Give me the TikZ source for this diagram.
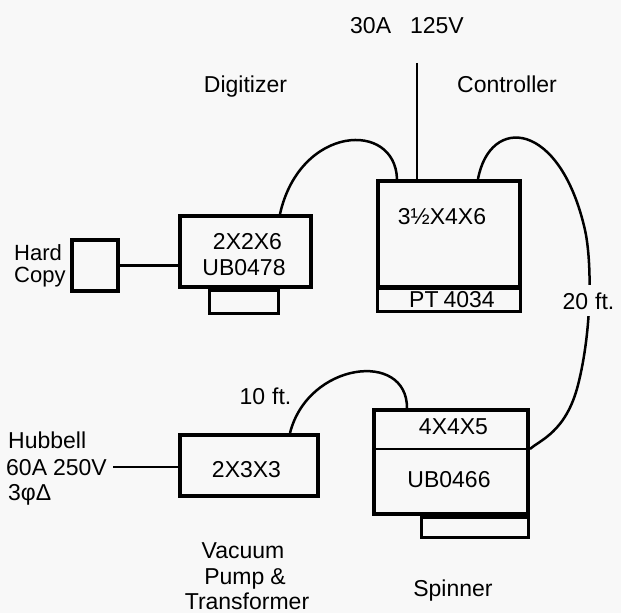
\documentclass[tikz,border=0pt]{standalone}
\usepackage{fontspec}
\setmainfont{Liberation Sans}
\definecolor{bg}{RGB}{248,248,248}
\begin{document}
\begin{tikzpicture}[x=1bp,y=-1bp,
  box/.style={draw, rectangle, line width=3.6bp, inner sep=0pt},
  standbox/.style={draw, rectangle, line width=2.8bp, inner sep=0pt},
  wire/.style={line width=2.2bp},
  cable/.style={line width=2.5bp},
  txt/.style={inner sep=0pt, anchor=base, font=\fontsize{23bp}{27bp}\selectfont},
  ltxt/.style={txt, anchor=base west}]
\fill[bg] (0,0) rectangle (621,613);
\useasboundingbox (0,0) rectangle (621,613);

% boxes
\node[box, minimum width=46.4bp, minimum height=51.4bp] (hard) at (95,265.5) {};
\node[standbox, minimum width=69bp, minimum height=23bp] (digstand) at (244,302) {};
\node[box, minimum width=131.4bp, minimum height=71.4bp] (dig) at (245.5,251.5) {};
\node[standbox, minimum width=143.5bp, minimum height=23.5bp] (ptbox) at (449,300) {};
\node[box, minimum width=142.4bp, minimum height=106.4bp] (ctrl) at (449,234) {};
\node[box, minimum width=138.4bp, minimum height=61.4bp] (vac) at (249,465.5) {};
\node[standbox, minimum width=107bp, minimum height=20bp] (spinstand) at (475,527.5) {};
\node[box, minimum width=154.4bp, minimum height=104.4bp] (spin) at (451,462) {};
\draw[wire] ([yshift=13bp]spin.west) -- ([yshift=13bp]spin.east);

% texts
\node[txt] (tdig) at (245.5,93) {Digitizer};
\node[txt] (tctrl) at (507,93) {Controller};
\node[ltxt] (tpwr) at (350,34) {30A\hspace{19bp}125V};
\node[ltxt, font=\fontsize{22bp}{26bp}\selectfont] (thard1) at (14,260) {Hard};
\node[ltxt, font=\fontsize{22bp}{26bp}\selectfont] (thard2) at (14,282) {Copy};
\node[txt] (tdig1) at (247.5,249) {2X2X6};
\node[txt] (tdig2) at (244,275) {UB0478};
\node[txt] (tctrl1) at (442,224) {3½X4X6};
\node[txt] (tpt) at (452,307) {PT\hspace{5bp}4034};
\node[ltxt] (thub1) at (8,448) {Hubbell};
\node[ltxt] (thub2) at (6,475) {60A\hspace{6bp}250V};
\node[ltxt] (thub3) at (8,500) {3φΔ};
\node[txt] (tvac) at (246.5,477) {2X3X3};
\node[txt] (tten) at (265.5,404) {10\hspace{7bp}ft.};
\node[txt] (tspin1) at (453.5,434) {4X4X5};
\node[txt] (tspin2) at (449,487) {UB0466};
\node[txt] (tvac1) at (243,558) {Vacuum};
\node[txt] (tvac2) at (245,584.5) {Pump\hspace{6bp}\&};
\node[txt] (tvac3) at (247,609) {Transformer};
\node[txt] (tspin) at (453,596) {Spinner};

% connectors
\coordinate (pwr) at (417,63);
\draw[wire] (pwr) -- (pwr |- ctrl.north);
\draw[wire] (hard.east) -- (dig.west |- hard.east);
\draw[wire] ([xshift=6bp]thub2.east) -- (vac.west |- thub2.east);
\draw[cable] ([xshift=34.5bp]dig.north) .. controls (300,125) and (395,120) .. ([xshift=-52bp]ctrl.north);
\draw[cable] ([xshift=41bp]vac.north) .. controls (308,362) and (407,350) .. ([xshift=-44bp]spin.north);
\draw[cable] ([xshift=29bp]ctrl.north) .. controls (490,115) and (560,120) .. (585,230)
  .. controls (592,262) and (592,330) .. (578,385)
  .. controls (566,432) and (540,440) .. ([yshift=13bp]spin.east);
\node[txt, fill=bg, inner ysep=7bp] (ttwenty) at (588.5,309) {20\hspace{7bp}ft.};
\end{tikzpicture}
\end{document}
